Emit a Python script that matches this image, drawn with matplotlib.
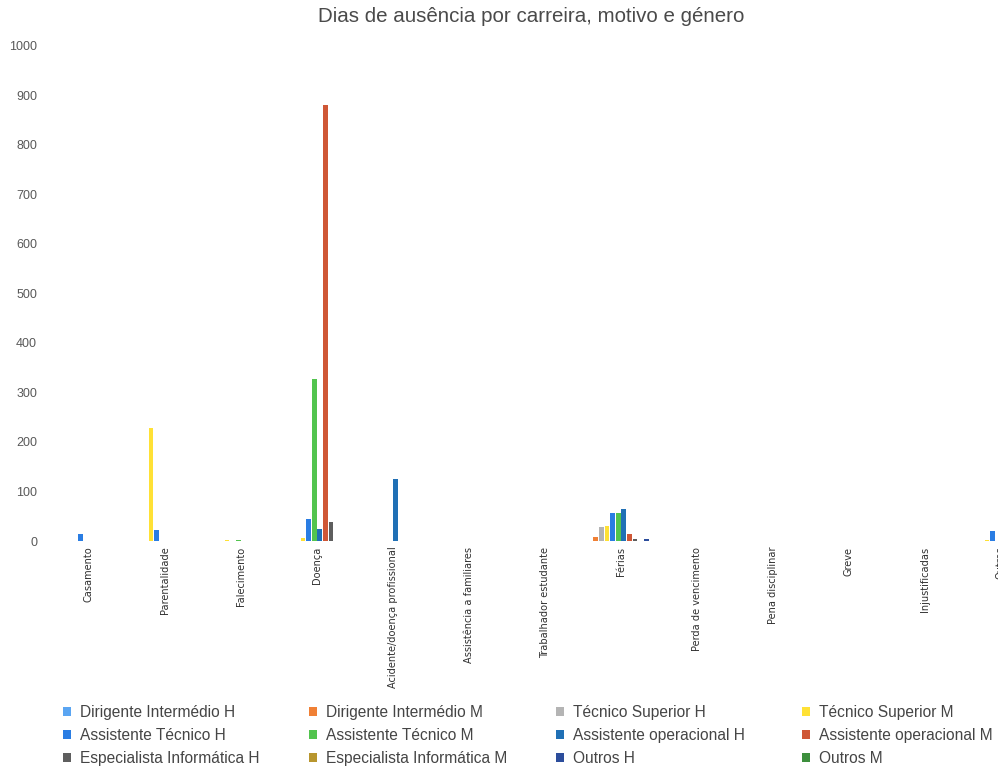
import matplotlib
matplotlib.use("Agg")
import matplotlib.pyplot as plt
from matplotlib.patches import Patch
import numpy as np

plt.rcParams['font.family'] = ['Liberation Sans', 'DejaVu Sans']

categories = ["Casamento", "Parentalidade", "Falecimento", "Doença",
              "Acidente/doença profissional", "Assistência a familiares",
              "Trabalhador estudante", "Férias", "Perda de vencimento",
              "Pena disciplinar", "Greve", "Injustificadas", "Outros"]

series_names = ["Dirigente Intermédio H", "Dirigente Intermédio M",
                "Técnico Superior H", "Técnico Superior M",
                "Assistente Técnico H", "Assistente Técnico M",
                "Assistente operacional H", "Assistente operacional M",
                "Especialista Informática H", "Especialista Informática M",
                "Outros H", "Outros M"]

dirigente_h = [0, 0, 0, 0, 0, 0, 0, 0, 0, 0, 0, 0, 0]
dirigente_m = [0, 0, 0, 0, 0, 0, 0, 8, 0, 0, 0, 0, 0]
tecnico_sup_h = [0, 0, 0, 0, 0, 0, 0, 28, 0, 0, 0, 0, 0]
tecnico_sup_m = [0, 228, 2, 7, 0, 0, 0, 31, 0, 0, 0, 0, 3]
assist_tec_h = [14, 23, 0, 44, 0, 0, 0, 56, 0, 0, 0, 0, 20]
assist_tec_m = [0, 0, 3, 327, 0, 0, 0, 56, 0, 0, 0, 0, 0]
assist_op_h = [0, 0, 0, 25, 126, 0, 0, 64, 0, 0, 0, 0, 0]
assist_op_m = [0, 0, 0, 880, 0, 0, 0, 14, 0, 0, 0, 0, 0]
espec_inf_h = [0, 0, 0, 39, 0, 0, 0, 5, 0, 0, 0, 0, 0]
espec_inf_m = [0, 0, 0, 0, 0, 0, 0, 0, 0, 0, 0, 0, 0]
outros_h = [0, 0, 0, 0, 0, 0, 0, 5, 0, 0, 0, 0, 0]
outros_m = [0, 0, 0, 0, 0, 0, 0, 0, 0, 0, 0, 0, 0]

series_values = [dirigente_h, dirigente_m, tecnico_sup_h, tecnico_sup_m,
                 assist_tec_h, assist_tec_m, assist_op_h, assist_op_m,
                 espec_inf_h, espec_inf_m, outros_h, outros_m]

colors = ["#5aa5f2", "#f08035", "#b4b4b4", "#ffe135",
          "#2a7de3", "#52c44e", "#2070b5", "#cf5736",
          "#5e5e5e", "#b8962e", "#2c4d9c", "#3d8f3d"]

fig = plt.figure(figsize=(9.98, 7.70), dpi=100)
# axes extends past the right edge of the figure, so the last group is cut
ax = fig.add_axes([51 / 998, 229 / 770, 988 / 998, 495 / 770])

x = np.arange(len(categories))
step = 0.0737
for j, (vals, col) in enumerate(zip(series_values, colors)):
    ax.bar(x + (j - 5.5) * step, vals, width=0.062, color=col, linewidth=0)

ax.set_xlim(-0.5, len(categories) - 0.5)
ax.set_ylim(0, 1000)
ax.set_yticks(np.arange(0, 1001, 100))
ax.tick_params(axis='y', length=0, pad=10, labelsize=9, labelcolor="#595959")
ax.set_xticks(x)
ax.set_xticklabels(categories, rotation=90, va='top', ha='center',
                   family=['DejaVu Sans'], fontstretch='condensed',
                   fontsize=7.8, color="#303030")
ax.tick_params(axis='x', length=0, pad=4)
for s in ax.spines.values():
    s.set_visible(False)

fig.text(531 / 998, 1 - 17 / 770, "Dias de ausência por carreira, motivo e género",
         ha='center', va='center', fontsize=14.8, color="#4a4a4a")

# legend: four columns, filled row by row
col_x = [63, 309, 556, 802]
for c in range(4):
    idx = [c, c + 4, c + 8]
    handles = [Patch(facecolor=colors[i], edgecolor='none') for i in idx]
    labels = [series_names[i] for i in idx]
    fig.legend(handles, labels, loc='upper left',
               bbox_to_anchor=(col_x[c] / 998, 1 - 705 / 770),
               frameon=False, fontsize=11.2, labelcolor="#454545",
               handlelength=0.52, handleheight=0.52, handletextpad=0.55,
               labelspacing=0.52, borderpad=0, borderaxespad=0)

fig.savefig("out.png", dpi=100)
